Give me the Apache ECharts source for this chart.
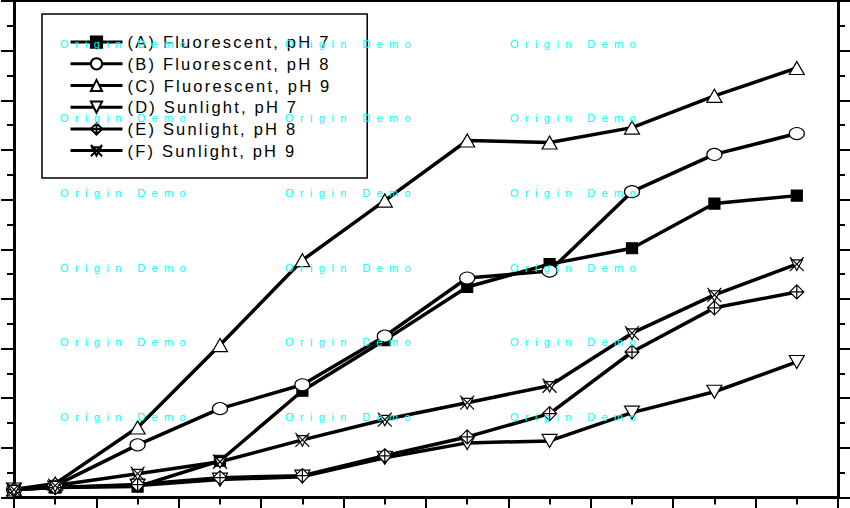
<!DOCTYPE html>
<html><head><meta charset="utf-8">
<script src="https://cdn.jsdelivr.net/npm/echarts@6/dist/echarts.min.js"></script>
<style>
html,body{margin:0;padding:0;background:#fff;}
#main{width:850px;height:508px;}
#main text{letter-spacing:2.2px;}
#main text[fill="#00ffff"]{letter-spacing:6.4px;}
</style></head><body><div id="main"></div>
<script>
// ---- data ----
const xValues = [0, 0.5, 1.5, 2.5, 3.5, 4.5, 5.5, 6.5, 7.5, 8.5, 9.5];
const seriesNames = [
  '(A) Fluorescent, pH 7',
  '(B) Fluorescent, pH 8',
  '(C) Fluorescent, pH 9',
  '(D) Sunlight, pH 7',
  '(E) Sunlight, pH 8',
  '(F) Sunlight, pH 9'
];
const seriesA = [0.16, 0.20, 0.22, 0.74, 2.15, 3.17, 4.24, 4.70, 5.02, 5.92, 6.08];
const seriesB = [0.16, 0.24, 1.06, 1.79, 2.27, 3.25, 4.42, 4.56, 6.16, 6.91, 7.33];
const seriesC = [0.16, 0.28, 1.41, 3.07, 4.78, 5.98, 7.19, 7.15, 7.45, 8.09, 8.65];
const seriesD = [0.16, 0.20, 0.24, 0.36, 0.42, 0.80, 1.10, 1.14, 1.71, 2.13, 2.73];
const seriesE = [0.16, 0.20, 0.26, 0.40, 0.44, 0.84, 1.22, 1.69, 2.93, 3.82, 4.14];
const seriesF = [0.16, 0.24, 0.48, 0.72, 1.16, 1.57, 1.91, 2.25, 3.31, 4.08, 4.70];
const watermarkText = 'Origin Demo';

// ---- layout / style ----
const wmRows = [44, 118, 193, 268, 342, 417];
const wmCols = [60, 285, 510];
const pair = arr => arr.map((v, i) => [xValues[i], v]);

const symDiamondCross = 'path://M10,0 L20,10 L10,20 L0,10 Z M10,0 L10,20 M0,10 L20,10';
const symXTri = 'path://M0,0 L20,20 M20,0 L0,20 M2,4 L18,4 L10,19 Z';

function axisBase(pos, lineW) {
  return {
    type: 'value', min: 0, max: 10, interval: 1, position: pos,
    axisLine: {show: true, onZero: false, lineStyle: {color: '#000', width: lineW}},
    axisTick: {show: true, inside: false, length: 13, lineStyle: {color: '#000', width: 2}},
    minorTick: {show: true, splitNumber: 2, length: 7, lineStyle: {color: '#000', width: 2}},
    axisLabel: {show: false}, splitLine: {show: false}, minorSplitLine: {show: false}
  };
}

function mkSeries(name, data, symbol, size, fill, rotate) {
  return {
    name: name, type: 'line', xAxisIndex: 0, yAxisIndex: 0,
    data: pair(data), symbol: symbol, symbolSize: size, symbolRotate: rotate || 0,
    showSymbol: true, clip: false,
    lineStyle: {color: '#000', width: 3.5},
    itemStyle: {color: fill, borderColor: '#000', borderWidth: 1.2}
  };
}

const graphics = [];
wmRows.forEach(y => wmCols.forEach(x => {
  graphics.push({type: 'text', x: x, y: y, z: 100, silent: true,
    style: {text: watermarkText, fill: '#00ffff', font: '11px "Liberation Sans"', verticalAlign: 'middle', align: 'left'}});
}));

const chart = echarts.init(document.getElementById('main'), null, {renderer: 'svg'});
chart.setOption({
  animation: false,
  backgroundColor: '#fff',
  grid: {left: 14, right: 12, top: 1, bottom: 10.5, containLabel: false},
  xAxis: [axisBase('bottom', 3), Object.assign(axisBase('top', 2), {axisTick: {show: false}, minorTick: {show: false}})],
  yAxis: [axisBase('left', 3), axisBase('right', 3)],
  legend: {
    orient: 'vertical', left: 42, top: 14,
    padding: [19.6, 82, 19, 27],
    itemWidth: 52, itemHeight: 14, itemGap: 4.7,
    borderColor: '#000', borderWidth: 1.5, backgroundColor: '#fff',
    lineStyle: {width: 3, color: '#000'},
    textStyle: {fontFamily: 'Liberation Sans', fontSize: 16.5, color: '#000'},
    data: seriesNames
  },
  graphic: graphics,
  series: [
    mkSeries(seriesNames[0], seriesA, 'rect', 11, '#000'),
    mkSeries(seriesNames[1], seriesB, 'circle', [15, 12], '#fff'),
    mkSeries(seriesNames[2], seriesC, 'triangle', [15, 13], '#fff'),
    mkSeries(seriesNames[3], seriesD, 'triangle', [15, 13], '#fff', 180),
    mkSeries(seriesNames[4], seriesE, symDiamondCross, 14, '#fff'),
    mkSeries(seriesNames[5], seriesF, symXTri, 14, '#fff')
  ]
});
</script></body></html>
